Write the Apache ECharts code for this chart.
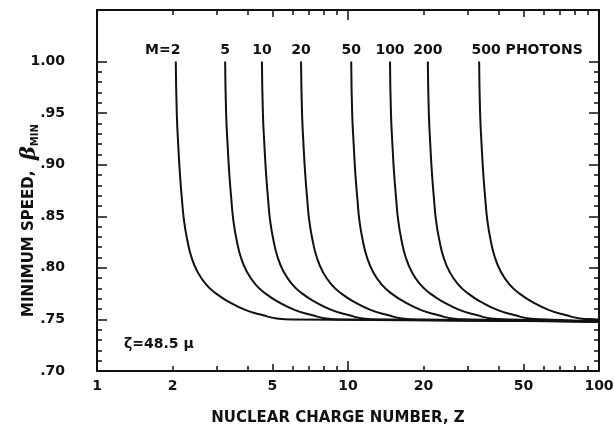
<!DOCTYPE html>
<html>
<head>
<meta charset="utf-8">
<title>Minimum speed vs nuclear charge number</title>
<script src="https://cdn.jsdelivr.net/npm/echarts@6.0.0/dist/echarts.min.js"></script>
<style>
  html, body { margin: 0; padding: 0; background: #fff; }
  #chart { width: 614px; height: 428px; }
</style>
</head>
<body>
<div id="chart"></div>
<script>
// beta levels (top of the curve down to the common floor)
const betaLevels = [1.00, 0.95, 0.917, 0.891, 0.868, 0.846, 0.827, 0.810, 0.796, 0.784, 0.775, 0.767, 0.759, 0.754, 0.751, 0.750, 0.748]

// Z where each curve passes those levels
const zM2   = [2.060, 2.079, 2.109, 2.140, 2.177, 2.221, 2.289, 2.381, 2.517, 2.719, 2.985, 3.356, 3.916, 4.594, 5.191, 6.118, 100]
const zM5   = [3.240, 3.269, 3.318, 3.366, 3.425, 3.493, 3.600, 3.745, 3.959, 4.277, 4.695, 5.278, 6.159, 7.225, 8.165, 9.623, 100]
const zM10  = [4.540, 4.581, 4.649, 4.717, 4.799, 4.894, 5.044, 5.248, 5.548, 5.993, 6.578, 7.396, 8.631, 10.12, 11.44, 13.48, 100]
const zM20  = [6.500, 6.559, 6.656, 6.754, 6.871, 7.007, 7.222, 7.514, 7.943, 8.580, 9.419, 10.59, 12.36, 14.50, 16.38, 19.31, 100]
const zM50  = [10.30, 10.39, 10.55, 10.70, 10.89, 11.10, 11.44, 11.91, 12.59, 13.60, 14.92, 16.78, 19.58, 22.97, 25.96, 30.59, 100]
const zM100 = [14.70, 14.83, 15.05, 15.27, 15.54, 15.85, 16.33, 16.99, 17.96, 19.40, 21.30, 23.95, 27.94, 32.78, 37.04, 43.66, 100]
const zM200 = [20.80, 20.99, 21.30, 21.61, 21.99, 22.42, 23.11, 24.04, 25.42, 27.46, 30.14, 33.88, 39.54, 46.38, 52.42, 61.78, 100]
const zM500 = [33.30, 33.60, 34.10, 34.60, 35.20, 35.90, 37.00, 38.49, 40.69, 43.96, 48.25, 54.25, 63.30, 74.26, 83.92, 98.90, 100]

const curveNames = ['M=2', '5', '10', '20', '50', '100', '200', '500 PHOTONS']

// axis ticks and labels
const xLabels = [1, 2, 5, 10, 20, 50, 100]
const xMajorTicks = [1, 10, 100]
const xMidTicks = [5, 50]
const xMinorTicks = [2, 3, 4, 6, 7, 8, 9, 20, 30, 40, 60, 70, 80, 90]
const yMajorTicks = [0.70, 0.75, 0.80, 0.85, 0.90, 0.95, 1.00]
const yMinorTicks = [0.70, 0.71, 0.72, 0.73, 0.74, 0.75, 0.76, 0.77, 0.78, 0.79, 0.80, 0.81, 0.82, 0.83, 0.84, 0.85,
  0.86, 0.87, 0.88, 0.89, 0.90, 0.91, 0.92, 0.93, 0.94, 0.95, 0.96, 0.97, 0.98, 0.99, 1.00]

const ink = '#111'
const font = 'DejaVu Sans'

const curves = [zM2, zM5, zM10, zM20, zM50, zM100, zM200, zM500]

const chart = echarts.init(document.getElementById('chart'))

// several axes per side, each carrying one tick length
function xAx(pos, ticks, len, main) {
  const labelled = main && pos === 'bottom'
  return {
    type: 'log', logBase: 10, min: 1, max: 100, position: pos,
    axisLine: { show: main, lineStyle: { color: ink, width: 2 } },
    axisTick: { show: true, inside: true, length: len, customValues: ticks, lineStyle: { color: ink, width: 1.5 } },
    axisLabel: labelled ? {
      show: true, customValues: xLabels, color: ink, fontFamily: font, fontWeight: 'bold', fontSize: 14, margin: 8
    } : { show: false },
    splitLine: { show: false },
    name: labelled ? 'NUCLEAR CHARGE NUMBER, Z' : '',
    nameLocation: 'middle', nameGap: 40, nameMoveOverlap: false,
    nameTextStyle: { color: ink, fontFamily: font, fontWeight: 'bold', fontSize: 15, padding: [0, 20, 0, 0] }
  }
}

function yAx(pos, ticks, len, main) {
  const labelled = main && pos === 'left'
  return {
    type: 'value', min: 0.70, max: 1.05, interval: 0.05, position: pos,
    axisLine: { show: main, lineStyle: { color: ink, width: 2 } },
    axisTick: { show: true, inside: true, length: len, customValues: ticks, lineStyle: { color: ink, width: 1.5 } },
    axisLabel: labelled ? {
      show: true, customValues: yMajorTicks, color: ink, fontFamily: font, fontWeight: 'bold', fontSize: 14, margin: 32,
      formatter: v => v > 0.999 ? '1.00' : v.toFixed(2).slice(1)
    } : { show: false },
    splitLine: { show: false },
    name: labelled ? 'MINIMUM SPEED,  {b|β}{s|MIN}' : '',
    nameLocation: 'middle', nameGap: 57, nameRotate: 90, nameMoveOverlap: false,
    nameTextStyle: {
      color: ink, fontFamily: font, fontWeight: 'bold', fontSize: 15, padding: [0, 60, 0, 0],
      rich: {
        b: { fontFamily: 'DejaVu Serif', fontStyle: 'italic', fontSize: 21, color: ink },
        s: { fontFamily: font, fontWeight: 'bold', fontSize: 10, color: ink, verticalAlign: 'bottom', padding: [9, 0, 0, 0] }
      }
    }
  }
}

const series = curves.map((zs, k) => ({
  name: curveNames[k],
  type: 'line',
  data: zs.map((z, i) => [z, betaLevels[i]]),
  showSymbol: false,
  smooth: 0.5,
  lineStyle: { color: ink, width: 2 },
  silent: true
}))

// curve names printed above the top of each curve
series.push({
  type: 'scatter',
  symbolSize: 0,
  itemStyle: { color: ink, opacity: 1 },
  data: curves.map((zs, k) => {
    const item = { value: [zs[0], betaLevels[0]], name: curveNames[k] }
    if (k === 0) item.label = { offset: [-13, 0] }
    if (k === curves.length - 1) item.label = { offset: [48, 0] }
    return item
  }),
  label: {
    show: true, position: 'top', distance: 4, formatter: p => p.name,
    color: ink, fontFamily: font, fontWeight: 'bold', fontSize: 14
  },
  silent: true
})

chart.setOption({
  backgroundColor: '#fff',
  animation: false,
  grid: { left: 97, right: 15, top: 10, bottom: 57, containLabel: false, outerBoundsMode: 'none' },
  xAxis: [
    xAx('bottom', xMajorTicks, 10, true),
    xAx('bottom', xMidTicks, 7, false),
    xAx('bottom', xMinorTicks, 5, false),
    xAx('top', xMajorTicks, 10, true),
    xAx('top', xMidTicks, 7, false),
    xAx('top', xMinorTicks, 5, false)
  ],
  yAxis: [
    yAx('left', yMajorTicks, 10, true),
    yAx('left', yMinorTicks, 5, false),
    yAx('right', yMajorTicks, 10, true),
    yAx('right', yMinorTicks, 5, false)
  ],
  series: series,
  graphic: [{
    type: 'text', left: 124, top: 337,
    style: { text: 'ζ=48.5 μ', fill: ink, font: 'bold 14px "DejaVu Sans"' }
  }]
})
</script>
</body>
</html>
